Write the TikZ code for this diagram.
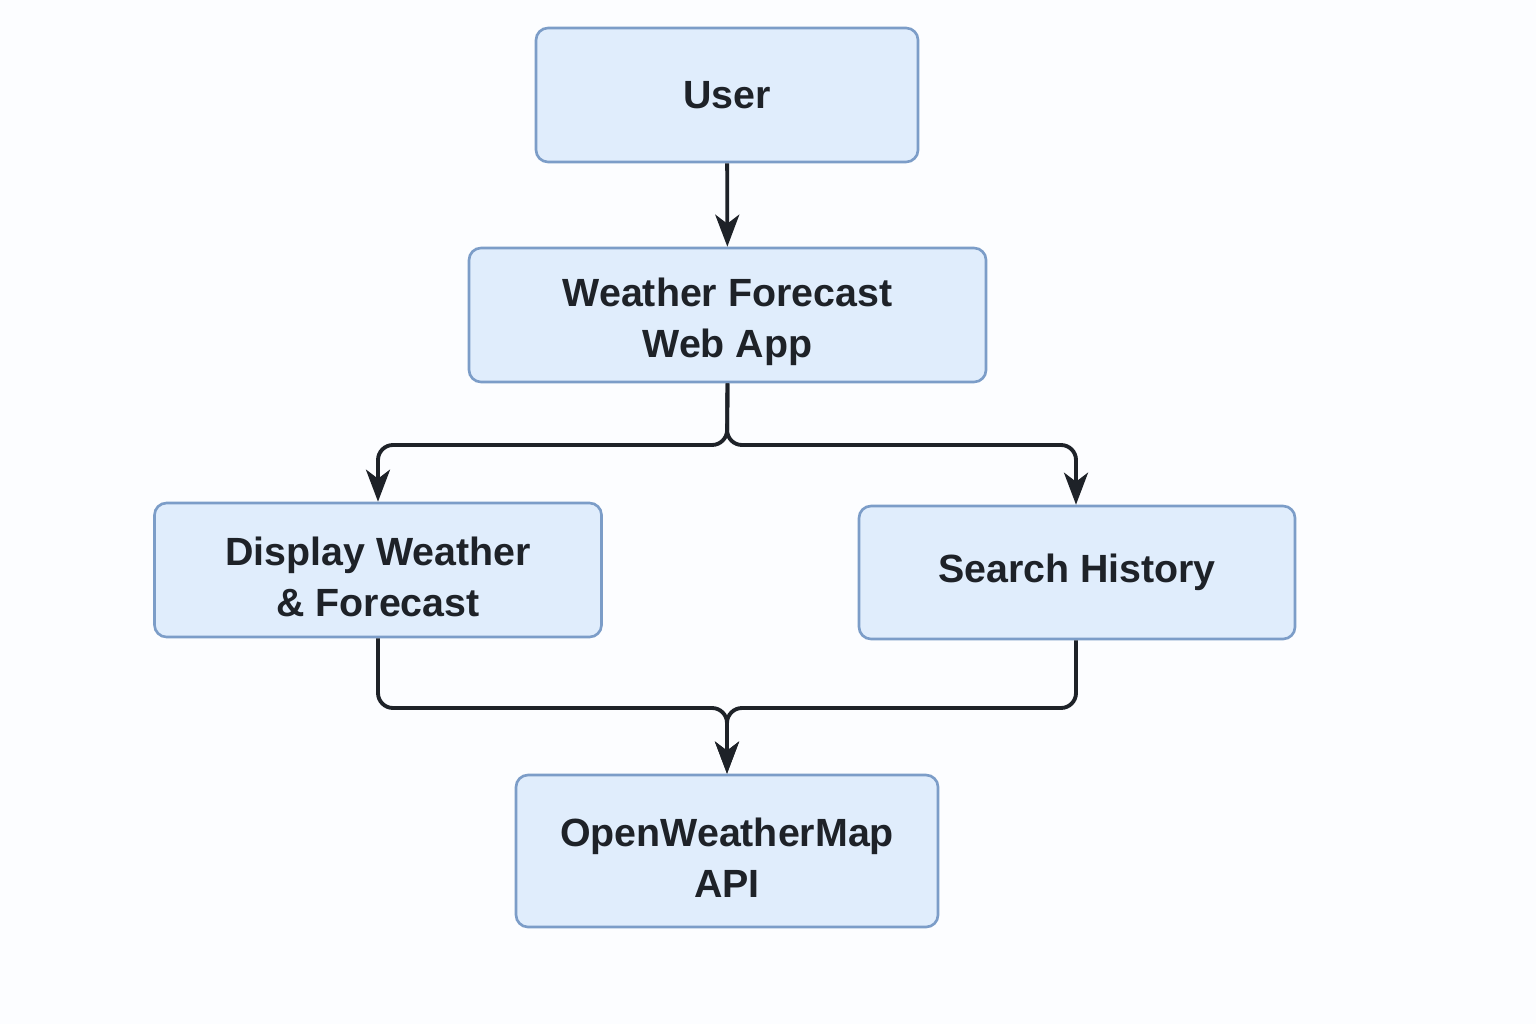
\documentclass[tikz,border=0pt]{standalone}
\usepackage{fontspec}
\setmainfont{Liberation Sans}
\usepackage{tikz}
\usetikzlibrary{arrows.meta}
\newcommand{\hb}{1.34}
\newcommand{\yspl}{5.79}
\newcommand{\ymrg}{3.16}
\definecolor{fondbleu}{RGB}{224,237,252}
\definecolor{bordbleu}{RGB}{124,157,200}
\definecolor{encre}{RGB}{30,34,40}
\definecolor{papier}{RGB}{252,253,255}
\tikzstyle{boite}=[draw=bordbleu,fill=fondbleu,line width=0.75pt,rounded corners=0.12cm,
  align=center,text=encre,font=\fontsize{11.2}{14.5}\selectfont\bfseries,inner sep=0pt]
\tikzstyle{deuxl}=[execute at begin node={\rule{0pt}{0.93cm}}]
\tikzstyle{lien}=[draw=encre,line width=1.1pt,rounded corners=0.15cm,
  -{Stealth[length=0.32cm,width=0.24cm,inset=0.09cm]}]

\begin{document}
\begin{tikzpicture}

\fill[papier] (0,0) rectangle (15.36,10.24);
\useasboundingbox (0,0) rectangle (15.36,10.24);

% boites
\node[boite,minimum width=3.82cm,minimum height=\hb cm] (user) at (7.27,9.29) {User};
\node[boite,deuxl,minimum width=5.17cm,minimum height=\hb cm] (app) at (7.275,7.09) {Weather Forecast\\Web App};
\node[boite,deuxl,minimum width=4.47cm,minimum height=\hb cm] (disp) at (3.78,4.54) {Display Weather\\\& Forecast};
\node[boite,minimum width=4.36cm,minimum height=1.33cm] (hist) at (10.77,4.515) {Search History};
\node[boite,deuxl,minimum width=4.22cm,minimum height=1.52cm] (api) at (7.27,1.73) {OpenWeatherMap\\API};

\coordinate (split) at (7.27,\yspl);
\coordinate (merge) at (7.27,\ymrg);

% liens
\draw[lien] (user) -- (app);
\draw[lien] (app.south) -- (split) -| (disp.north);
\draw[lien] (app.south) -- (split) -| (10.76,0|-hist.north);
\draw[lien] (disp.south) |- (merge) -- (api.north);
\draw[lien] (10.76,0|-hist.south) |- (merge) -- (api.north);

\end{tikzpicture}
\end{document}
